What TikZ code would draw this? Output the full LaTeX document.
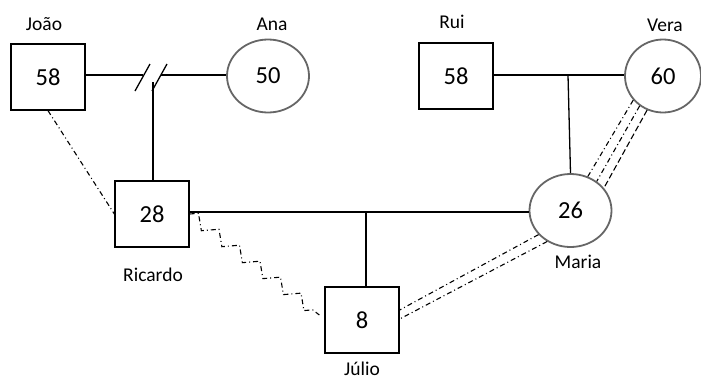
\documentclass[tikz,border=0pt]{standalone}
\usepackage{fontspec}
\setmainfont{Carlito}
\usetikzlibrary{shapes.geometric,decorations.pathmorphing}

\begin{document}
\begin{tikzpicture}[
    x=1pt, y=-1pt,
    male/.style={draw, line width=1.3pt, minimum width=74pt, minimum height=66pt,
        inner sep=0pt, font=\fontsize{24.5}{28}\selectfont},
    female/.style={ellipse, draw=black!60, line width=1.8pt, minimum width=82pt,
        minimum height=73pt, inner sep=0pt, font=\fontsize{24.5}{28}\selectfont},
    person label/.style={font=\fontsize{19.5}{22}\selectfont, inner sep=0pt},
    union/.style={line width=1.3pt},
    tie/.style={line width=1.1pt, dash pattern=on 5pt off 3pt on 1pt off 3pt},
    close tie/.style={line width=1.1pt, dash pattern=on 6pt off 3pt}
    ]
    \useasboundingbox (0,0) rectangle (701,381);
    % people
    \node[male] (joao) at (48,77) {58};
    \node[female] (ana) at (268,76) {50};
    \node[male] (rui) at (456,76) {58};
    \node[female, minimum width=76pt] (vera) at (663,76) {60};
    \node[male] (ricardo) at (152,214) {28};
    \node[female] (maria) at (570.5,210.5) {26};
    \node[male] (julio) at (362,320) {8};
    % names
    \node[person label] (joaoname) at (44,24) {João};
    \node[person label] (ananame) at (272,24) {Ana};
    \node[person label] (ruiname) at (452,22) {Rui};
    \node[person label] (veraname) at (665,25) {Vera};
    \node[person label] (ricardoname) at (153,275) {Ricardo};
    \node[person label] (marianame) at (578,262) {Maria};
    \node[person label] (julioname) at (362,369) {Júlio};
    % divorced couple
    \coordinate (cutA) at (143,75);
    \coordinate (cutB) at (161,75);
    \coordinate (drop) at (153,82);
    \draw[union] (joao.east |- cutA) -- (cutA);
    \draw[union] (cutB) -- (ana.west |- cutB);
    \draw[union] (135,91) -- (150,64);
    \draw[union] (152,91) -- (167,64);
    \draw[union] (drop) -- (ricardo.north -| drop);
    % married couples
    \draw[union] (rui.east |- 0,75) coordinate (ruiend) -- (vera.west |- ruiend)
        coordinate (veraend);
    \coordinate (ruidrop) at (568,75);
    \draw[union] (ruidrop) -- (maria.north);
    \draw[union] (ricardo.east |- 0,212) coordinate (ricend) -- (maria.west |- ricend);
    \coordinate (juliodrop) at (366,212);
    \draw[union] (juliodrop) -- (julio.north -| juliodrop);
    % relations
    \draw[tie] (joao.south) -- (ricardo.west);
    \draw[tie, decorate, decoration={zigzag, segment length=26pt, amplitude=6pt}]
        (ricardo.east) -- ([xshift=-5pt, yshift=5pt]julio.west);
    \draw[tie] (maria.217) -- ([yshift=10pt]julio.east);
    \draw[tie] (maria.233) -- ([yshift=1pt]julio.east);
    \draw[tie] (vera.219) -- (maria.63);
    \draw[tie] (vera.232) -- (maria.48);
    \draw[close tie] (vera.245) -- (maria.34);
\end{tikzpicture}
\end{document}
